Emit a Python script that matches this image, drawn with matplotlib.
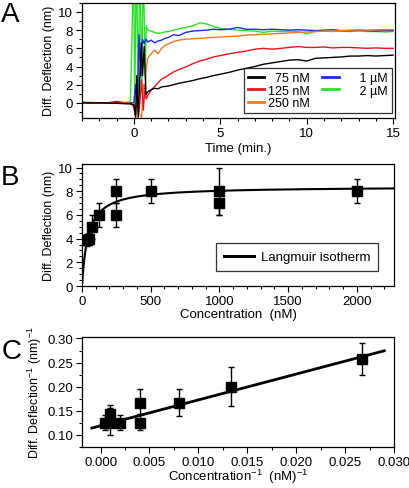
import matplotlib
matplotlib.use("Agg")
import matplotlib.pyplot as plt
from matplotlib.ticker import MultipleLocator, FormatStrFormatter
import numpy as np

plt.rcParams['font.family'] = ['Liberation Sans', 'DejaVu Sans']
plt.rcParams['mathtext.fontset'] = 'custom'
plt.rcParams['mathtext.rm'] = 'Liberation Sans'
plt.rcParams['mathtext.it'] = 'Liberation Sans:italic'
plt.rcParams['mathtext.bf'] = 'Liberation Sans:bold'

# ---------------- Panel A data (time traces) ----------------
T_PRE = [-3.0, -2.5, -2.0, -1.5, -1.0, -0.5, -0.2]
T_POST = [0.8, 1.0, 1.2, 1.4, 1.6, 1.8, 2.0, 2.3, 2.6, 3.0, 3.4, 3.8, 4.2, 4.6,
          5.0, 5.5, 6.0, 6.5, 7.0, 7.5, 8.0, 8.5, 9.0, 9.5, 10.0, 10.5, 11.0,
          11.5, 12.0, 12.5, 13.0, 13.5, 14.0, 14.5, 15.0]

black_pre = [0.0, -0.02, 0.01, -0.03, -0.05, -0.1, -0.12]
black_spike_t = [0.0, 0.1, 0.17, 0.25, 0.33, 0.43, 0.5, 0.6, 0.7]
black_spike_v = [-0.2, -1.6, 3.0, -1.6, 2.0, 6.6, 3.0, 6.2, 0.9]
black_post = [1.2, 1.45, 1.6, 1.55, 1.75, 1.8, 1.85, 2.0, 2.15, 2.3, 2.45, 2.65,
              2.8, 3.0, 3.15, 3.35, 3.6, 3.8, 4.0, 4.25, 4.4, 4.55, 4.7, 4.75,
              4.6, 4.9, 4.95, 5.0, 5.05, 5.15, 5.15, 5.2, 5.15, 5.2, 5.25]

red_pre = [0.02, 0.0, -0.02, 0.01, 0.0, -0.03, -0.05]
red_spike_t = [0.0, 0.1, 0.2, 0.3, 0.45, 0.55, 0.65, 0.72]
red_spike_v = [-0.3, -1.2, 1.0, -1.0, 2.5, -0.8, 2.0, 0.4]
red_post = [0.8, 1.4, 1.8, 2.2, 2.6, 2.8, 3.05, 3.4, 3.65, 3.95, 4.3, 4.6, 4.8,
            5.05, 5.2, 5.4, 5.55, 5.7, 5.9, 6.0, 5.9, 6.0, 6.1, 6.2, 6.1, 6.1,
            6.15, 6.05, 6.1, 6.1, 6.05, 6.0, 6.05, 6.0, 6.0]

orange_pre = [0.0, 0.03, -0.02, 0.0, 0.02, -0.02, 0.0]
orange_spike_t = [0.0, 0.1, 0.2, 0.3, 0.45, 0.55, 0.65, 0.7]
orange_spike_v = [-0.5, -1.6, 1.0, -1.2, -1.6, 2.0, 0.5, 3.5]
orange_post = [4.9, 5.4, 5.8, 5.4, 6.0, 6.3, 6.5, 6.75, 6.9, 7.0, 7.05, 7.1,
               7.15, 7.2, 7.25, 7.3, 7.35, 7.45, 7.5, 7.55, 7.6, 7.65, 7.7,
               7.75, 7.8, 7.85, 7.9, 7.9, 7.95, 8.0, 8.0, 8.0, 8.05, 8.05, 8.05]

blue_pre = [0.05, 0.0, -0.05, 0.0, 0.15, 0.0, 0.02]
blue_spike_t = [0.0, 0.1, 0.2, 0.3, 0.4, 0.5, 0.6, 0.7]
blue_spike_v = [0.0, 2.0, -0.5, 7.5, 3.0, 7.0, 6.5, 7.0]
blue_post = [6.7, 6.9, 6.6, 6.8, 6.9, 7.1, 7.2, 7.5, 7.4, 7.75, 7.9, 7.95, 8.0,
             8.1, 8.05, 8.1, 8.3, 8.1, 8.1, 8.05, 8.1, 8.05, 8.0, 8.05, 8.0,
             7.95, 8.0, 8.05, 7.95, 7.95, 8.0, 7.95, 7.9, 7.95, 7.95]

green_pre = [0.05, 0.05, 0.0, 0.02, 0.03, 0.05, 0.1]
green_spike_t = [-0.05, 0.0, 0.05, 0.12, 0.18, 0.25, 0.32, 0.38, 0.45, 0.52,
                 0.58, 0.65, 0.72]
green_spike_v = [12, 12, -0.5, 12, 12, 0.5, 12, 12, 1.5, 12, 12, 3.0, 8.5]
green_post = [8.0, 7.9, 7.75, 7.65, 7.7, 7.8, 7.85, 8.0, 8.15, 8.3, 8.45, 8.8,
              8.7, 8.4, 8.2, 8.1, 8.0, 7.95, 7.9, 7.75, 7.9, 7.85, 7.9, 7.85,
              7.6, 7.85, 7.9, 7.85, 7.9, 7.85, 7.9, 7.85, 7.85, 7.8, 7.85]

series_labels = ['75 nM', '125 nM', '250 nM', '1 µM', '2 µM']
series_colors = ['#000000', '#e8141c', '#f07820', '#1a2ae6', '#2ee02e']

# ---------------- Panel B data ----------------
conc = [37.5, 50, 75, 125, 250, 250, 500, 1000, 1000, 2000]
defl = [3.9, 4.0, 5.0, 6.0, 8.0, 6.0, 8.0, 8.0, 7.0, 8.0]
defl_err = [0.5, 0.5, 1.0, 1.0, 1.0, 1.0, 1.0, 2.0, 1.0, 1.0]
D_MAX = 8.4
K_D = 45.0

# ---------------- Panel C data ----------------
inv_conc = [0.0005, 0.001, 0.001, 0.002, 0.004, 0.004, 0.008, 0.0133, 0.0267]
inv_defl = [0.125, 0.125, 0.143, 0.125, 0.125, 0.167, 0.167, 0.200, 0.257]
inv_err_lo = [0.014, 0.025, 0.02, 0.014, 0.014, 0.024, 0.028, 0.04, 0.033]
inv_err_hi = [0.016, 0.03, 0.02, 0.016, 0.016, 0.028, 0.028, 0.04, 0.033]
fit_x_range = [-0.0009, 0.029]

fig = plt.figure(figsize=(4.10, 4.89), dpi=100)

TICK_FS = 9.5
LBL_FS = 9.5
YLBL_FS = 9


def style(ax):
    ax.tick_params(which='both', direction='out', top=False, right=False,
                   labelsize=TICK_FS, width=0.8)
    ax.tick_params(which='major', length=4, pad=2.5)
    ax.tick_params(which='minor', length=2.2)
    for s in ax.spines.values():
        s.set_linewidth(0.9)


# ---- A ----
axA = fig.add_axes([0.2, 0.757, 0.763, 0.235])
pres = [black_pre, red_pre, orange_pre, blue_pre, green_pre]
spts = [black_spike_t, red_spike_t, orange_spike_t, blue_spike_t, green_spike_t]
spvs = [black_spike_v, red_spike_v, orange_spike_v, blue_spike_v, green_spike_v]
posts = [black_post, red_post, orange_post, blue_post, green_post]
handles = {}
for i in [4, 3, 2, 1, 0]:
    t = T_PRE + spts[i] + T_POST
    v = pres[i] + spvs[i] + posts[i]
    h, = axA.plot(t, v, color=series_colors[i], lw=1.0, label=series_labels[i])
    handles[i] = h
axA.set_xlim(-3, 15.1)
axA.set_ylim(-1.65, 11)
axA.xaxis.set_major_locator(MultipleLocator(5))
axA.xaxis.set_minor_locator(MultipleLocator(1))
axA.yaxis.set_major_locator(MultipleLocator(2))
axA.yaxis.set_minor_locator(MultipleLocator(1))
axA.set_xlabel('Time (min.)', fontsize=LBL_FS, labelpad=2)
axA.set_ylabel('Diff. Deflection (nm)', fontsize=YLBL_FS, labelpad=2)
style(axA)
leg_h = [handles[0], handles[1], handles[2], handles[3], handles[4]]
leg_l = ['  75 nM', '125 nM', '250 nM', '     1 µM', '     2 µM']
legA = axA.legend(leg_h, leg_l, ncol=2, loc='lower right',
                  bbox_to_anchor=(0.998, 0.02), fontsize=9, frameon=True,
                  fancybox=False, edgecolor='black', handlelength=1.3,
                  handletextpad=0.3, columnspacing=1.0, labelspacing=0.05,
                  borderpad=0.3, borderaxespad=0.2)
legA.get_frame().set_linewidth(0.9)
for lh in legA.get_lines():
    lh.set_linewidth(2)

# ---- B ----
axB = fig.add_axes([0.2, 0.413, 0.761, 0.2496])
cfit = np.linspace(0, 2270, 400)
axB.plot(cfit, D_MAX * cfit / (K_D + cfit), color='black', lw=1.5,
         label='Langmuir isotherm')
axB.errorbar(conc, defl, yerr=defl_err, fmt='s', color='black', ms=7,
             capsize=2.5, elinewidth=1, capthick=1)
axB.set_xlim(0, 2270)
axB.set_ylim(0, 10.3)
axB.xaxis.set_major_locator(MultipleLocator(500))
axB.xaxis.set_minor_locator(MultipleLocator(100))
axB.yaxis.set_major_locator(MultipleLocator(2))
axB.yaxis.set_minor_locator(MultipleLocator(0.5))
axB.set_xlabel('Concentration  (nM)', fontsize=LBL_FS, labelpad=1)
axB.set_ylabel('Diff. Deflection (nm)', fontsize=YLBL_FS, labelpad=2)
style(axB)
legB = axB.legend(loc='lower right', bbox_to_anchor=(0.95, 0.12), fontsize=9.5,
                  frameon=True, fancybox=False, edgecolor='black',
                  handlelength=2.3, borderpad=0.6, handletextpad=0.5,
                  borderaxespad=0.0)
legB.get_frame().set_linewidth(0.9)
for lh in legB.get_lines():
    lh.set_linewidth(2.2)

# ---- C ----
axC = fig.add_axes([0.2, 0.0838, 0.761, 0.225])
xf = np.array(fit_x_range)
axC.plot(xf, 1.0 / D_MAX + (K_D / D_MAX) * xf, color='black', lw=2)
axC.errorbar(inv_conc, inv_defl, yerr=[inv_err_lo, inv_err_hi], fmt='s',
             color='black', ms=7, capsize=2.5, elinewidth=1, capthick=1)
axC.set_xlim(-0.0019, 0.030)
axC.set_ylim(0.075, 0.303)
axC.xaxis.set_major_locator(MultipleLocator(0.005))
axC.xaxis.set_minor_locator(MultipleLocator(0.0025))
axC.yaxis.set_major_locator(MultipleLocator(0.05))
axC.yaxis.set_minor_locator(MultipleLocator(0.025))
axC.xaxis.set_major_formatter(FormatStrFormatter('%.3f'))
axC.yaxis.set_major_formatter(FormatStrFormatter('%.2f'))
axC.set_xlabel(r'Concentration$^{-1}$  (nM)$^{-1}$', fontsize=LBL_FS, labelpad=-1)
axC.set_ylabel(r'Diff. Deflection$^{-1}$ (nm)$^{-1}$', fontsize=YLBL_FS, labelpad=2)
style(axC)

# panel letters
fig.text(0.003, 0.97, 'A', fontsize=20, va='center', ha='left')
fig.text(0.003, 0.637, 'B', fontsize=20, va='center', ha='left')
fig.text(0.003, 0.28, 'C', fontsize=20, va='center', ha='left')

fig.savefig('out.png', dpi=100)
